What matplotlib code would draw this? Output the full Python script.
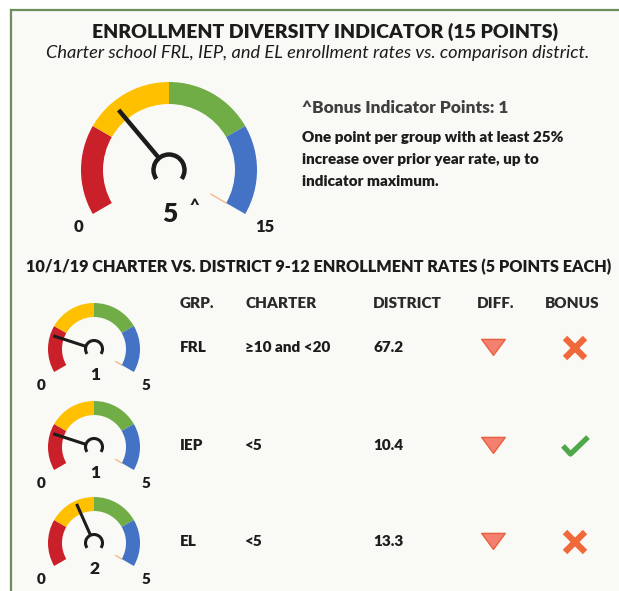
import matplotlib
matplotlib.use("Agg")
import matplotlib.pyplot as plt
from matplotlib.patches import Wedge, Arc, Rectangle
from matplotlib.path import Path
import numpy as np

W, H = 619, 591

title = "ENROLLMENT DIVERSITY INDICATOR (15 POINTS)"
subtitle = "Charter school FRL, IEP, and EL enrollment rates vs. comparison district."
bonus_title = "^Bonus Indicator Points: 1"
bonus_note = ["One point per group with at least 25%",
              "increase over prior year rate, up to",
              "indicator maximum."]
section = "10/1/19 CHARTER VS. DISTRICT 9-12 ENROLLMENT RATES (5 POINTS EACH)"
columns = ["GRP.", "CHARTER", "DISTRICT", "DIFF.", "BONUS"]

total_points = 5
total_max = 15
groups = ["FRL", "IEP", "EL"]
group_points = [1, 1, 2]
group_max = 5
charter_rates = ["\u226510 and <20", "<5", "<5"]
district_rates = [67.2, 10.4, 13.3]
diff_down = [True, True, True]
bonus_earned = [False, True, False]

band_colors = ["#c9202a", "#ffc000", "#70ad47", "#4472c4"]
ink = "#1c1c1c"
BOLD = "heavy"

plt.rcParams['font.family'] = ['Lato', 'DejaVu Sans']

fig = plt.figure(figsize=(W / 100, H / 100), dpi=100)
ax = fig.add_axes([0, 0, 1, 1])
ax.set_xlim(0, W)
ax.set_ylim(0, H)
ax.axis("off")


def Y(y):
    return H - y


def draw_gauge(cx, cy, r, width, value, vmax, hub_r, needle_lw, hub_lw, tip):
    cy = Y(cy)
    step = 240.0 / len(band_colors)
    for i, c in enumerate(band_colors):
        a2 = 210 - i * step
        ax.add_patch(Wedge((cx, cy), r, a2 - step, a2, width=width, color=c, lw=0, zorder=2))
    t = np.radians(-30)
    ax.plot([cx + 0.55 * r * np.cos(t), cx + (r - width) * np.cos(t)],
            [cy + 0.55 * r * np.sin(t), cy + (r - width) * np.sin(t)],
            color="#f4b183", lw=0.9, zorder=2)
    a = np.radians(210 - 240.0 * value / vmax)
    ax.plot([cx + hub_r * np.cos(a), cx + tip * r * np.cos(a)],
            [cy + hub_r * np.sin(a), cy + tip * r * np.sin(a)],
            color=ink, lw=needle_lw, solid_capstyle="butt", zorder=3)
    ax.add_patch(Arc((cx, cy), 2 * hub_r, 2 * hub_r, theta1=-35, theta2=215,
                     lw=hub_lw, color=ink, zorder=4))


def fit(txt, target):
    fig.canvas.draw()
    w = txt.get_window_extent(fig.canvas.get_renderer()).width
    txt.set_fontsize(txt.get_fontsize() * target / w)
    return txt.get_fontsize()


# panel background and border (top and left edges only)
ax.add_patch(Rectangle((11, -5), W, Y(9.5) + 5, fc="#f9f9f6", ec="none", zorder=0))
ax.plot([11, 11], [-5, Y(9.5)], color="#6b8e5a", lw=1.6, zorder=1)
ax.plot([11, W + 5], [Y(9.5), Y(9.5)], color="#6b8e5a", lw=1.6, zorder=1)

t = ax.text(325, Y(32), title, ha="center", va="center", fontsize=12,
            fontweight=BOLD, color=ink)
fit(t, 465)
t = ax.text(318, Y(53), subtitle, ha="center", va="center", fontsize=10,
            style="italic", color=ink)
fit(t, 543)

# overall gauge
draw_gauge(169, 170, 88, 22, total_points, total_max, 15.5, 3.2, 3.2, 0.89)
ax.text(78, Y(227), "0", ha="center", va="center", fontsize=12, fontweight=BOLD, color=ink)
ax.text(265, Y(227), str(total_max), ha="center", va="center", fontsize=12,
        fontweight=BOLD, color=ink)
ax.text(170, Y(214), str(total_points), ha="center", va="center", fontsize=19,
        fontweight=BOLD, color=ink)
ax.text(194, Y(206), "^", ha="center", va="center", fontsize=12, fontweight=BOLD, color=ink)

t = ax.text(302, Y(108), bonus_title, ha="left", va="center", fontsize=10,
            fontweight=BOLD, color="#404040")
fit(t, 206)
fs = None
for i, line in enumerate(bonus_note):
    t = ax.text(302, Y(137 + 22 * i), line, ha="left", va="center", fontsize=9.5,
                fontweight=BOLD, color=ink)
    if fs is None:
        fs = fit(t, 265)
    else:
        t.set_fontsize(fs)

t = ax.text(26, Y(267), section, ha="left", va="center", fontsize=11,
            fontweight=BOLD, color=ink)
fit(t, 589)

col_x = [180, 245, 373, 477, 545]
for x, c in zip(col_x, columns):
    ax.text(x, Y(303), c, ha="left", va="center", fontsize=11,
            fontweight=BOLD, color="#2a2a2a")

tri = Path([(-1, 0.6), (1, 0.6), (0, -0.75), (-1, 0.6)],
           [Path.MOVETO, Path.LINETO, Path.LINETO, Path.CLOSEPOLY])
tick = Path([(-1, 0.05), (-0.4, -0.6), (1, 0.75)],
            [Path.MOVETO, Path.LINETO, Path.LINETO])

row_y = [348, 446, 542]
for i, g in enumerate(groups):
    y = row_y[i]
    draw_gauge(94, y + 1, 46, 14, group_points[i], group_max, 8.5, 2.2, 2.2, 0.93)
    ax.text(95, Y(y + 27), str(group_points[i]), ha="center", va="center",
            fontsize=12.5, fontweight=BOLD, color=ink)
    ax.text(41, Y(y + 37), "0", ha="center", va="center", fontsize=11,
            fontweight=BOLD, color=ink)
    ax.text(146, Y(y + 37), str(group_max), ha="center", va="center", fontsize=11,
            fontweight=BOLD, color=ink)

    ax.text(col_x[0], Y(y), g, ha="left", va="center", fontsize=11,
            fontweight=BOLD, color=ink)
    ax.text(col_x[1], Y(y), charter_rates[i], ha="left", va="center", fontsize=11,
            fontweight=BOLD, color=ink)
    ax.text(col_x[2], Y(y), f"{district_rates[i]:.1f}", ha="left", va="center",
            fontsize=11, fontweight=BOLD, color=ink)
    if diff_down[i]:
        ax.plot([493], [Y(y - 2)], marker=tri, ms=17, mfc="#f4806f", mec="#e9603f",
                mew=1, ls="none", zorder=3)
    if bonus_earned[i]:
        ax.plot([575], [Y(y)], marker=tick, ms=18, mfc="none", mec="#4ea84a",
                mew=3.8, ls="none", zorder=3)
    else:
        ax.plot([575], [Y(y)], marker="x", ms=14.5, mec="#f0693a", mew=4.5,
                ls="none", zorder=3)

fig.savefig("out.png", dpi=100, facecolor="white")
